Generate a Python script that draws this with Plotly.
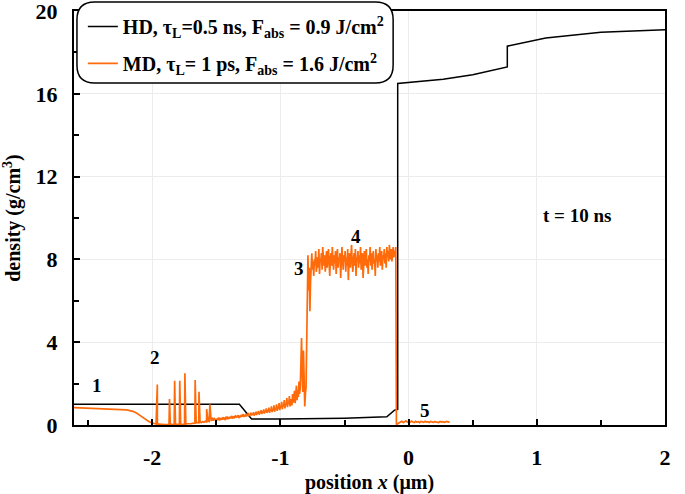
import numpy as np
import plotly.graph_objects as go

# ---------------- data ----------------
# HD simulation (black)
hd_x = [-2.61, -1.32, -1.225, -1.0, -0.5, -0.17, -0.11, -0.085, -0.085, 0.0, 0.27, 0.5, 0.77, 0.77, 1.07, 1.5, 2.0]
hd_y = [1.0, 1.0, 0.29, 0.29, 0.33, 0.40, 0.72, 0.75, 16.5, 16.55, 16.7, 16.92, 17.3, 18.3, 18.7, 18.97, 19.1]

# MD simulation (orange), piecewise segments
mdA_x = [-2.61, -2.5, -2.4, -2.3, -2.25, -2.2, -2.15, -2.12, -2.09, -2.06, -2.03, -2.01]
mdA_y = [0.84, 0.82, 0.80, 0.78, 0.76, 0.73, 0.66, 0.57, 0.44, 0.30, 0.18, 0.12]

mdB_range = (-2.0, -1.556)
mdB_y = [0.10, 0.08, 0.06, 0.05, 0.04, 0.04, 0.03, 0.03, 0.03, 0.02,
         0.02, 0.02, 0.03, 0.02, 0.02, 0.03, 0.02, 0.02, 0.03, 0.03,
         0.02, 0.03, 0.04, 0.03, 0.04, 0.05, 0.04, 0.06, 0.05, 0.07,
         0.06, 0.08, 0.07, 0.09, 0.10, 0.12, 0.10, 0.14, 0.12, 0.16,
         0.13, 0.18, 0.15, 0.20, 0.17]
spike_x = [-1.96, -1.865, -1.825, -1.785, -1.745, -1.665, -1.635, -1.575, -1.55]
spike_h = [1.96, 1.26, 2.14, 2.14, 2.5, 2.17, 1.6, 0.77, 1.0]

mdC_range = (-1.545, -0.80)
mdC_y = [0.24, 0.19, 0.28, 0.31, 0.21, 0.26, 0.34, 0.23, 0.29, 0.20,
         0.27, 0.33, 0.25, 0.36, 0.22, 0.30, 0.28, 0.35, 0.26, 0.32,
         0.38, 0.27, 0.31, 0.24, 0.36, 0.33, 0.41, 0.29, 0.34, 0.30,
         0.40, 0.32, 0.37, 0.44, 0.31, 0.35, 0.42, 0.33, 0.39, 0.46,
         0.36, 0.43, 0.38, 0.48, 0.34, 0.41, 0.45, 0.37, 0.50, 0.40,
         0.44, 0.52, 0.39, 0.47, 0.42, 0.55, 0.41, 0.49, 0.45, 0.58,
         0.43, 0.51, 0.47, 0.60, 0.46, 0.54, 0.49, 0.62, 0.45, 0.56,
         0.52, 0.64, 0.48, 0.58, 0.55, 0.68, 0.50, 0.61, 0.57, 0.72,
         0.53, 0.65, 0.60, 0.75, 0.55, 0.69, 0.63, 0.80, 0.58, 0.70,
         0.66, 0.84, 0.59, 0.74, 0.68, 0.90, 0.62, 0.78, 0.71, 0.95,
         0.64, 0.82, 0.76, 1.00, 0.68, 0.87, 0.79, 1.06, 0.72, 0.92,
         0.85, 1.12, 0.76, 0.98, 0.90, 1.20, 0.80, 1.04, 0.95, 1.30,
         0.86, 1.10, 1.02, 1.40, 0.90, 1.18, 1.25, 0.95, 1.50, 1.08,
         1.30, 1.65, 1.05, 1.45, 1.90, 1.20, 1.70, 1.35, 2.10, 1.50,
         1.80, 3.00, 4.20, 2.40, 1.60, 3.60, 2.20, 0.90, 1.50, 1.80]

mdD_range = (-0.785, -0.10)
mdD_y = [8.2, 6.5, 7.6, 5.5, 6.9, 7.8, 8.3, 7.5, 7.9, 7.2,
         8.0, 7.7, 8.4, 7.4, 7.8, 8.1, 7.6, 8.5, 7.3, 8.0,
         7.9, 8.3, 7.5, 8.6, 8.1, 7.7, 8.2, 7.4, 7.9, 8.4,
         7.6, 8.0, 8.5, 7.8, 7.2, 8.1, 8.3, 7.7, 8.6, 7.9,
         7.5, 8.2, 7.8, 8.4, 7.3, 8.0, 8.5, 7.6, 8.1, 7.9,
         8.3, 7.1, 7.8, 8.6, 8.0, 7.5, 8.2, 7.9, 8.4, 7.4,
         8.1, 7.7, 8.5, 7.0, 7.9, 8.3, 7.6, 8.2, 8.7, 7.8,
         7.4, 8.0, 8.3, 7.7, 8.5, 7.2, 8.1, 7.9, 8.4, 7.6,
         8.2, 7.8, 8.6, 7.5, 8.0, 8.3, 7.1, 7.9, 8.4, 7.7,
         8.1, 8.5, 7.6, 8.0, 7.3, 8.2, 7.9, 8.6, 7.7, 8.3,
         7.5, 8.1, 8.4, 7.8, 8.0, 7.2, 8.5, 7.9, 8.2, 7.6,
         8.3, 7.9, 8.6, 7.7, 8.1, 8.4, 7.5, 8.2, 8.0, 8.5,
         7.8, 8.3, 7.6, 8.6, 8.1, 8.4, 7.9, 8.7, 8.2, 8.0,
         8.5, 7.9, 8.3, 8.6, 8.1, 8.4, 8.2, 8.6]

mdE_range = (-0.095, 0.32)
mdE_y = [0.02, 0.05, 0.10, 0.14, 0.18, 0.12, 0.16, 0.20, 0.14, 0.17,
         0.13, 0.19, 0.15, 0.12, 0.18, 0.14, 0.16, 0.11, 0.17, 0.15,
         0.13, 0.18, 0.14, 0.16, 0.12, 0.17, 0.15, 0.13, 0.16, 0.14,
         0.15, 0.12, 0.17, 0.14, 0.16, 0.13, 0.15, 0.17, 0.14, 0.15]

labels_text = ["1", "2", "3", "4", "5", "t = 10 ns"]
labels_x = [-2.43, -1.98, -0.857, -0.41, 0.13, 1.317]
labels_y = [1.93, 3.24, 7.54, 9.13, 0.72, 10.14]

x_ticks = [-2, -1, 0, 1, 2]
y_ticks = [0, 4, 8, 12, 16, 20]

# ---------------- build MD series ----------------
md_x = list(mdA_x)
md_y = list(mdA_y)
bx = list(np.linspace(mdB_range[0], mdB_range[1], len(mdB_y)))
pts = list(zip(bx, mdB_y)) + list(zip(spike_x, spike_h))
pts.sort(key=lambda p: p[0])
md_x += [p[0] for p in pts]
md_y += [p[1] for p in pts]
md_x += list(np.linspace(mdC_range[0], mdC_range[1], len(mdC_y)))
md_y += mdC_y
md_x += list(np.linspace(mdD_range[0], mdD_range[1], len(mdD_y)))
md_y += mdD_y
md_x += list(np.linspace(mdE_range[0], mdE_range[1], len(mdE_y)))
md_y += mdE_y

FONT = "Liberation Serif"
ORANGE = "#ff6a0a"

fig = go.Figure()
fig.add_trace(go.Scatter(
    x=hd_x, y=hd_y, mode="lines", line=dict(color="black", width=1.5),
    name="HD, τ<sub>L</sub>=0.5 ns, F<sub>abs</sub> = 0.9 J/cm<sup>2</sup>",
    legendgroup="a"))
fig.add_trace(go.Scatter(
    x=md_x, y=md_y, mode="lines", line=dict(color=ORANGE, width=1.7),
    name="MD, τ<sub>L</sub>= 1 ps, F<sub>abs</sub> = 1.6 J/cm<sup>2</sup>",
    legendgroup="b"))

for t, x, y in zip(labels_text, labels_x, labels_y):
    fig.add_annotation(x=x, y=y, text=t, showarrow=False,
                       font=dict(family=FONT, size=19, color="black", weight="bold"))

# rounded legend frame
x0, x1 = 0.005, 0.54
y0, y1 = 0.826, 1.022
r = 0.03
ry = r * 591 / 414
path = (f"M{x0+r},{y1} L{x1-r},{y1} Q{x1},{y1} {x1},{y1-ry} "
        f"L{x1},{y0+ry} Q{x1},{y0} {x1-r},{y0} L{x0+r},{y0} "
        f"Q{x0},{y0} {x0},{y0+ry} L{x0},{y1-ry} Q{x0},{y1} {x0+r},{y1} Z")
fig.add_shape(type="path", path=path, xref="paper", yref="paper",
              line=dict(color="black", width=1.5), fillcolor="white", layer="above")

axis_common = dict(
    showline=True, linecolor="black", linewidth=2, mirror=True,
    ticks="inside", ticklen=6, tickwidth=1.5, tickcolor="black",
    showgrid=True, gridcolor="#ececec", gridwidth=1, zeroline=False,
    automargin=False, ticklabeloverflow="allow",
    tickfont=dict(family=FONT, size=22, color="black", weight="bold"),
)

fig.update_xaxes(
    range=[-2.61, 2.0], tickmode="array", tickvals=x_ticks,
    ticktext=[str(v) for v in x_ticks],
    minor=dict(ticks="inside", ticklen=5, tickcolor="black", tickwidth=1.5, dtick=0.5, showgrid=False),
    title=dict(text="position <i>x</i> (μm)", font=dict(family=FONT, size=20, color="black", weight="bold"), standoff=6),
    ticklabelstandoff=12,
    **axis_common)
fig.update_yaxes(
    range=[0, 20], tickmode="array", tickvals=y_ticks,
    ticktext=[str(v) for v in y_ticks],
    minor=dict(ticks="inside", ticklen=5, tickcolor="black", tickwidth=1.5, dtick=2, showgrid=False),
    title=dict(text="density (g/cm<sup>3</sup>)", font=dict(family=FONT, size=20, color="black", weight="bold"), standoff=14),
    ticklabelstandoff=10,
    **axis_common)

fig.update_layout(
    width=685, height=494,
    margin=dict(l=74, r=20, t=11, b=69, autoexpand=False),
    paper_bgcolor="white", plot_bgcolor="white",
    showlegend=True,
    legend=dict(x=0.015, y=0.986, yref="container", xanchor="left", yanchor="top",
                bgcolor="rgba(0,0,0,0)", borderwidth=0,
                traceorder="grouped", tracegroupgap=8, itemwidth=30,
                font=dict(family=FONT, size=20, color="black", weight="bold")),
)

fig.write_html("out.html")
